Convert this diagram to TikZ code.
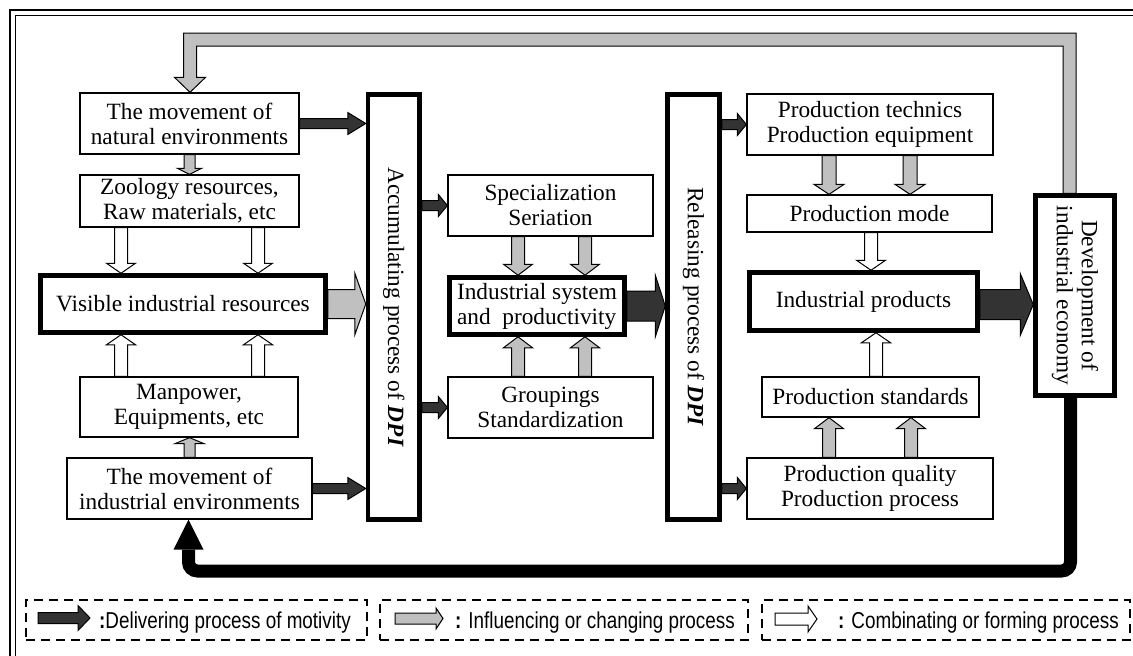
\documentclass[tikz,border=0pt]{standalone}
\usepackage{fontspec}
\setmainfont{Liberation Serif}
\newfontfamily\legfont{Liberation Sans}[FakeStretch=0.82]
\usetikzlibrary{calc}
\definecolor{arrdark}{HTML}{333333}
\definecolor{arrgray}{HTML}{C0C0C0}
\pgfdeclarelayer{bg}
\pgfsetlayers{bg,main}
% block arrow: #1 style, #2 start, #3 end, #4 half shaft, #5 half head, #6 head length
\newcommand{\blkarrow}[6]{%
  \path (#2) coordinate (ba-s);
  \path (#3) coordinate (ba-e);
  \path ($(ba-e)!#6!(ba-s)$) coordinate (ba-h);
  \draw[#1] ($(ba-s)!#4!90:(ba-e)$) -- ($(ba-h)!#4!90:(ba-e)$) -- ($(ba-h)!#5!90:(ba-e)$) -- (ba-e) -- ($(ba-h)!#5!-90:(ba-e)$) -- ($(ba-h)!#4!-90:(ba-e)$) -- ($(ba-s)!#4!-90:(ba-e)$) -- cycle;}
\tikzset{
  box/.style={draw, line width=1.3pt, fill=white, align=center, inner sep=0pt,
    font=\fontsize{23.3pt}{25pt}\selectfont},
  thickbox/.style={box, line width=4.5pt},
  rtext/.style={rotate=-90, align=center, inner sep=0pt, font=\fontsize{23.3pt}{25pt}\selectfont},
  darkarr/.style={draw=black, line width=1pt, fill=arrdark, line join=miter},
  grayarr/.style={draw=black, line width=1pt, fill=arrgray, line join=miter},
  whitearr/.style={draw=black, line width=1pt, fill=white, line join=miter},
  legbox/.style={draw, dash pattern=on 9pt off 6pt, line width=1.6pt, inner sep=0pt},
  legtext/.style={inner sep=0pt, anchor=base west, font=\legfont\fontsize{23pt}{25pt}\selectfont},
}
\begin{document}
\begin{tikzpicture}[x=1pt,y=-1pt]
\useasboundingbox (0,0) rectangle (1133,656);
% outer frame
\draw[line width=2.5pt] (10,656) -- (10,10) -- (1133,10);
\draw[line width=1.5pt] (15.5,656) -- (15.5,15.5) -- (1133,15.5);

% left column
\node[box, minimum width=219pt, minimum height=61pt] (nat) at (189.5,123.5) {The movement of\\natural environments};
\node[box, minimum width=219pt, minimum height=52pt] (zoo) at (189.5,201) {Zoology resources,\\Raw materials, etc};
\node[thickbox, minimum width=285pt, minimum height=57pt] (vis) at (183,304) {Visible industrial resources};
\node[box, minimum width=218pt, minimum height=60pt] (man) at (189,407) {Manpower,\\Equipments, etc};
\node[box, minimum width=245pt, minimum height=61pt] (ienv) at (189.5,488.5) {The movement of\\industrial environments};

% accumulating
\node[thickbox, minimum width=51.5pt, minimum height=425pt] (acc) at (393.75,307) {};
\node[rtext] (acct) at (acc.center) {Accumulating process of \textbf{\textit{DPI}}};

% middle column
\node[box, minimum width=205pt, minimum height=61pt] (spec) at (550.5,205.5) {Specialization\\Seriation};
\node[thickbox, minimum width=175pt, minimum height=57pt, align=left] (isys) at (537,306) {Industrial system\\and~~productivity};
\node[box, minimum width=205pt, minimum height=61pt] (grp) at (550.5,407.5) {Groupings\\Standardization};

% releasing
\node[thickbox, minimum width=52pt, minimum height=425pt] (rel) at (693.5,307) {};
\node[rtext] (relt) at (rel.center) {Releasing process of \textbf{\textit{DPI}}};

% right column
\node[box, minimum width=246pt, minimum height=61pt] (ptech) at (870,124.5) {Production technics\\Production equipment};
\node[box, minimum width=245pt, minimum height=37pt] (pmode) at (869.5,213.5) {Production mode};
\node[thickbox, minimum width=228pt, minimum height=58pt] (iprod) at (863.5,301.5) {Industrial products};
\node[box, minimum width=217pt, minimum height=40pt] (pstd) at (870.5,397) {Production standards};
\node[box, minimum width=246pt, minimum height=61pt] (pqual) at (870,488.5) {Production quality\\Production process};

% development
\node[thickbox, minimum width=79pt, minimum height=200pt] (dev) at (1075,295.5) {};
\node[rtext] (devt) at (dev.center) {Development of\\industrial economy};

% legend boxes
\node[legbox, minimum width=341pt, minimum height=40pt] (lg1) at (196.5,620) {};
\node[legbox, minimum width=368pt, minimum height=40pt] (lg2) at (564,620) {};
\node[legbox, minimum width=368pt, minimum height=40pt] (lg3) at (946,620) {};
\node[legtext] (lt1) at (99,628) {\textbf{:}Delivering process of motivity};
\node[legtext] (lt2) at (455,628) {\textbf{:} Influencing or changing process};
\node[legtext] (lt3) at (838,628) {\textbf{:} Combinating or forming process};

\begin{pgfonlayer}{bg}
% left column arrows
\blkarrow{darkarr}{nat.east}{acc.west |- nat.east}{5pt}{11pt}{18pt}
\blkarrow{darkarr}{ienv.east}{acc.west |- ienv.east}{5pt}{11pt}{18pt}
\blkarrow{grayarr}{nat.south}{nat.south |- zoo.north}{5.5pt}{12pt}{6pt}
\blkarrow{grayarr}{ienv.north}{ienv.north |- man.south}{5.5pt}{14.5pt}{6pt}
\blkarrow{whitearr}{$(zoo.south)+(-68.5,0)$}{ba-s |- vis.north}{6.5pt}{14.5pt}{10pt}
\blkarrow{whitearr}{$(zoo.south)+(68.5,0)$}{ba-s |- vis.north}{6.5pt}{14.5pt}{10pt}
\blkarrow{whitearr}{$(man.north)+(-68,0)$}{ba-s |- vis.south}{6.5pt}{14.5pt}{10pt}
\blkarrow{whitearr}{$(man.north)+(69,0)$}{ba-s |- vis.south}{6.5pt}{14.5pt}{10pt}
\blkarrow{grayarr}{vis.east}{acc.west |- vis.east}{14.5pt}{31pt}{11pt}
% middle arrows
\blkarrow{darkarr}{acc.east |- spec.west}{spec.west}{5pt}{11pt}{9pt}
\blkarrow{darkarr}{acc.east |- grp.west}{grp.west}{5pt}{11pt}{9pt}
\blkarrow{grayarr}{$(spec.south)+(-32.5,0)$}{ba-s |- isys.north}{6.5pt}{14.5pt}{11pt}
\blkarrow{grayarr}{$(spec.south)+(34.5,0)$}{ba-s |- isys.north}{6.5pt}{14.5pt}{11pt}
\blkarrow{grayarr}{$(grp.north)+(-32.5,0)$}{ba-s |- isys.south}{6.5pt}{14.5pt}{11pt}
\blkarrow{grayarr}{$(grp.north)+(34.5,0)$}{ba-s |- isys.south}{6.5pt}{14.5pt}{11pt}
\blkarrow{darkarr}{isys.east}{rel.west |- isys.east}{15pt}{31pt}{10pt}
% right arrows
\blkarrow{darkarr}{rel.east |- ptech.west}{ptech.west}{5pt}{11pt}{9pt}
\blkarrow{darkarr}{rel.east |- pqual.west}{pqual.west}{5pt}{11pt}{9pt}
\blkarrow{grayarr}{$(ptech.south)+(-41,0)$}{ba-s |- pmode.north}{7pt}{15pt}{10pt}
\blkarrow{grayarr}{$(ptech.south)+(40,0)$}{ba-s |- pmode.north}{7pt}{15pt}{10pt}
\blkarrow{whitearr}{$(pmode.south)+(1.5,0)$}{ba-s |- iprod.north}{6.5pt}{14.5pt}{10pt}
\blkarrow{whitearr}{$(pstd.north)+(5.5,0)$}{ba-s |- iprod.south}{6.5pt}{14.5pt}{10pt}
\blkarrow{grayarr}{$(pqual.north)+(-41,0)$}{ba-s |- pstd.south}{6.5pt}{14.5pt}{11pt}
\blkarrow{grayarr}{$(pqual.north)+(41,0)$}{ba-s |- pstd.south}{6.5pt}{14.5pt}{11pt}
\blkarrow{darkarr}{$(iprod.east)+(0,3)$}{dev.west |- ba-s}{15pt}{31pt}{13pt}

% top gray feedback arrow
\coordinate (gA) at ($(dev.north)+(-5.5,0)$);
\coordinate (gB) at ($(nat.north)+(0.5,0)$);
\coordinate (gT1) at (0,33);
\coordinate (gT2) at (0,46);
\coordinate (gA1) at ($(gA)+(6.5,0)$);
\coordinate (gA2) at ($(gA)+(-6.5,0)$);
\coordinate (gB1) at ($(gB)+(-6.5,-15)$);
\coordinate (gB2) at ($(gB)+(6.5,-15)$);
\draw[grayarr] (gA1) -- (gA1 |- gT1) -- (gB1 |- gT1) -- (gB1) -- ($(gB)+(-15.5,-15)$) -- (gB) -- ($(gB)+(15.5,-15)$) -- (gB2) -- (gB2 |- gT2) -- (gA2 |- gT2) -- (gA2) -- cycle;

% bottom black feedback arrow
\coordinate (kA) at ($(dev.south)+(-4.5,0)$);
\coordinate (kx) at ($(ienv.south)+(-1,0)$);
\coordinate (kxb) at ($(kx)+(0,30)$);
\coordinate (kY) at (0,571);
\draw[line width=13pt, rounded corners=9pt] (kA) -- (kA |- kY) -- (kx |- kY) -- (kxb);
\fill (kx) -- ($(kxb)+(-15,0)$) -- ($(kxb)+(15,0)$) -- cycle;

% legend arrows
\coordinate (la1) at (38,618);
\coordinate (lb1) at (90,618);
\blkarrow{darkarr}{la1}{lb1}{5.5pt}{12.5pt}{12pt}
\coordinate (la2) at (395,618.5);
\coordinate (lb2) at (443,618.5);
\blkarrow{grayarr}{la2}{lb2}{5.5pt}{10.5pt}{7pt}
\coordinate (la3) at (775,619);
\coordinate (lb3) at (817,619);
\blkarrow{whitearr}{la3}{lb3}{6pt}{13pt}{9pt}
\end{pgfonlayer}
\end{tikzpicture}
\end{document}
